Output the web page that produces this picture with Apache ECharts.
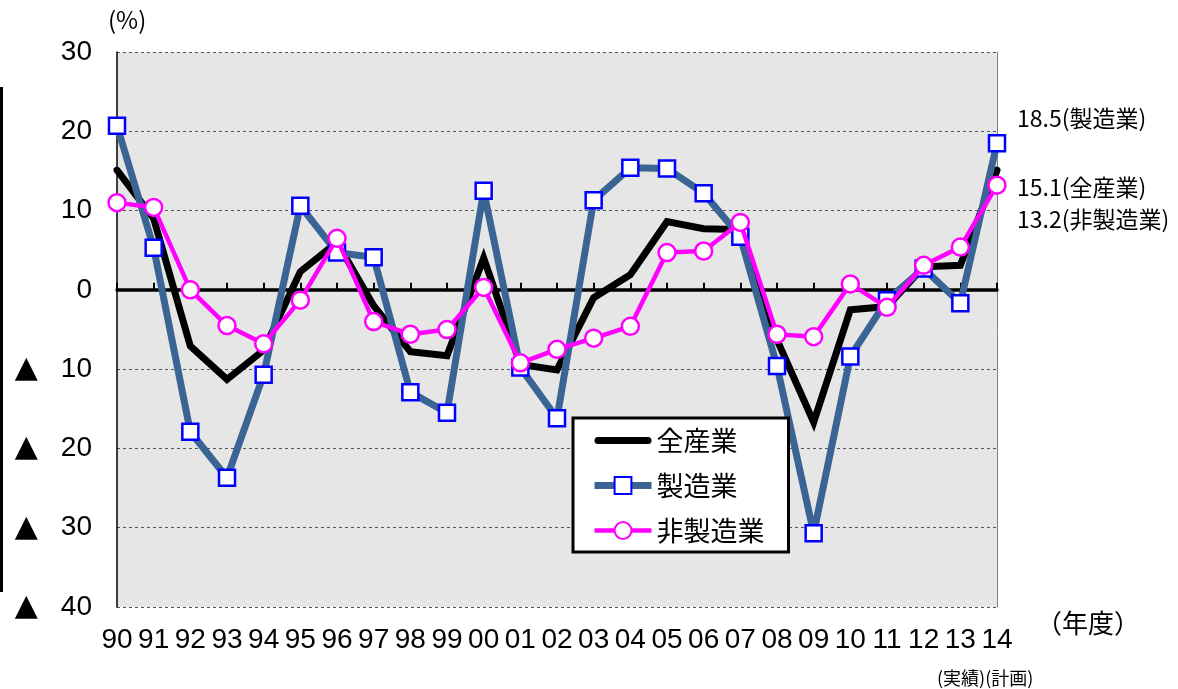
<!DOCTYPE html>
<html>
<head>
<meta charset="utf-8">
<script src="https://cdn.jsdelivr.net/npm/echarts@6/dist/echarts.min.js"></script>
<style>
html,body{margin:0;padding:0;background:#fff;}
#chart{width:1178px;height:689px;}
</style>
</head>
<body>
<div id="chart"></div>
<script>
const years = ['90','91','92','93','94','95','96','97','98','99','00','01','02','03','04','05','06','07','08','09','10','11','12','13','14'];
const allIndustry = [15.1, 9.0, -7.1, -11.3, -7.6, 2.3, 6.0, -2.0, -7.8, -8.3, 4.0, -9.4, -10.1, -1.0, 1.9, 8.6, 7.7, 7.6, -6.3, -16.7, -2.5, -2.1, 2.9, 3.1, 15.1];
const manufacturing = [20.7, 5.3, -17.9, -23.7, -10.7, 10.6, 4.7, 4.1, -12.9, -15.5, 12.5, -9.8, -16.2, 11.3, 15.4, 15.3, 12.2, 6.7, -9.6, -30.7, -8.4, -1.3, 2.7, -1.7, 18.5];
const nonManufacturing = [11.0, 10.4, 0.0, -4.5, -6.8, -1.3, 6.5, -4.0, -5.6, -5.0, 0.3, -9.2, -7.5, -6.1, -4.6, 4.7, 4.9, 8.5, -5.6, -5.9, 0.75, -2.2, 3.1, 5.4, 13.2];
const seriesNames = ['全産業', '製造業', '非製造業'];

const chart = echarts.init(document.getElementById('chart'), null, {renderer: 'canvas'});
const numFont = '"Liberation Sans", Arial, sans-serif';
const cjkFont = '"Noto Sans CJK JP", "Noto Sans", sans-serif';

const option = {
  animation: false,
  backgroundColor: '#ffffff',
  grid: {left: 117, right: 181, top: 52, bottom: 82, show: true, backgroundColor: '#e6e6e6', borderWidth: 0},
  legend: {
    orient: 'vertical', left: 573, top: 418,
    data: [
      {name: seriesNames[0], icon: 'path://M3.5,0 H53.5 A3.5,3.5 0 0 1 53.5,7 H3.5 A3.5,3.5 0 0 1 3.5,0 Z'},
      {name: seriesNames[1]},
      {name: seriesNames[2]}
    ],
    itemWidth: 57, itemHeight: 21, itemGap: 18,
    padding: [9, 24, 8, 18],
    lineStyle: {width: 'inherit'},
    backgroundColor: '#ffffff', borderColor: '#000000', borderWidth: 3, borderRadius: 0,
    textStyle: {fontSize: 27, color: '#000', fontFamily: cjkFont},
    selectedMode: false
  },
  xAxis: [{
    type: 'category', data: years, boundaryGap: false, position: 'bottom',
    axisLine: {show: true, onZero: true, lineStyle: {color: '#000', width: 3.5}},
    axisTick: {show: true, inside: true, length: 7, lineStyle: {color: '#000', width: 2}},
    axisLabel: {show: false},
    splitLine: {show: false}
  }, {
    type: 'category', data: years, boundaryGap: false, position: 'bottom',
    axisLine: {show: false, onZero: false}, axisTick: {show: false},
    axisLabel: {show: true, interval: 0, margin: 19, fontSize: 28, color: '#000', fontFamily: numFont},
    splitLine: {show: false}
  }],
  yAxis: [{
    type: 'value', min: -40, max: 30, interval: 10,
    axisLine: {show: true, lineStyle: {color: '#000', width: 1.5}},
    axisTick: {show: false},
    splitLine: {show: true, lineStyle: {color: '#555', width: 1, type: [3, 3]}},
    axisLabel: {
      margin: 25, color: '#000', fontSize: 28, fontFamily: numFont,
      formatter: function (v) { return v < 0 ? '{t|▲}{n|' + (-v) + '}' : '{n|' + v + '}'; },
      rich: {
        t: {width: 46, align: 'left', fontSize: 30, fontFamily: '"DejaVu Sans", sans-serif', color: '#000'},
        n: {fontSize: 28, fontFamily: numFont, color: '#000'}
      }
    }
  }, {
    type: 'value', min: -40, max: 30, interval: 10, position: 'right',
    axisLine: {show: true, lineStyle: {color: '#808080', width: 1}},
    axisTick: {show: false}, axisLabel: {show: false}, splitLine: {show: false}
  }],
  series: [{
    name: seriesNames[0], type: 'line', data: allIndustry, xAxisIndex: 0, yAxisIndex: 0,
    symbol: 'none', lineStyle: {color: '#000000', width: 7, cap: 'round', join: 'miter'},
    itemStyle: {color: '#000000'}, z: 2
  }, {
    name: seriesNames[1], type: 'line', data: manufacturing, xAxisIndex: 0, yAxisIndex: 0,
    symbol: 'rect', symbolSize: 16,
    lineStyle: {color: '#3a6494', width: 7},
    itemStyle: {color: '#ffffff', borderColor: '#0000ff', borderWidth: 2.5}, z: 3
  }, {
    name: seriesNames[2], type: 'line', data: nonManufacturing, xAxisIndex: 0, yAxisIndex: 0,
    symbol: 'circle', symbolSize: 17,
    lineStyle: {color: '#ff00ff', width: 4.5},
    itemStyle: {color: '#ffffff', borderColor: '#ff00ff', borderWidth: 2.5}, z: 4
  }],
  graphic: [
    {type: 'rect', left: 0, top: 87, shape: {width: 3, height: 505}, style: {fill: '#000'}},
    {type: 'text', left: 108, top: 8, style: {text: '(%)', fontSize: 24, fontFamily: 'Noto Sans CJK JP', fill: '#000'}},
    {type: 'text', left: 1036, top: 610, style: {text: '（年度）', fontSize: 26, fontFamily: 'Noto Sans CJK JP', fill: '#000'}},
    {type: 'text', left: 937, top: 669, style: {text: '(実績)(計画)', fontSize: 18, fontFamily: 'Noto Sans CJK JP', fill: '#000'}},
    {type: 'text', left: 1017, top: 107, style: {text: '18.5(製造業)', fontSize: 23, fontFamily: 'Noto Sans CJK JP', fill: '#000'}},
    {type: 'text', left: 1017, top: 176, style: {text: '15.1(全産業)', fontSize: 23, fontFamily: 'Noto Sans CJK JP', fill: '#000'}},
    {type: 'text', left: 1017, top: 208, style: {text: '13.2(非製造業)', fontSize: 23, fontFamily: 'Noto Sans CJK JP', fill: '#000'}}
  ]
};
chart.setOption(option);
</script>
</body>
</html>
